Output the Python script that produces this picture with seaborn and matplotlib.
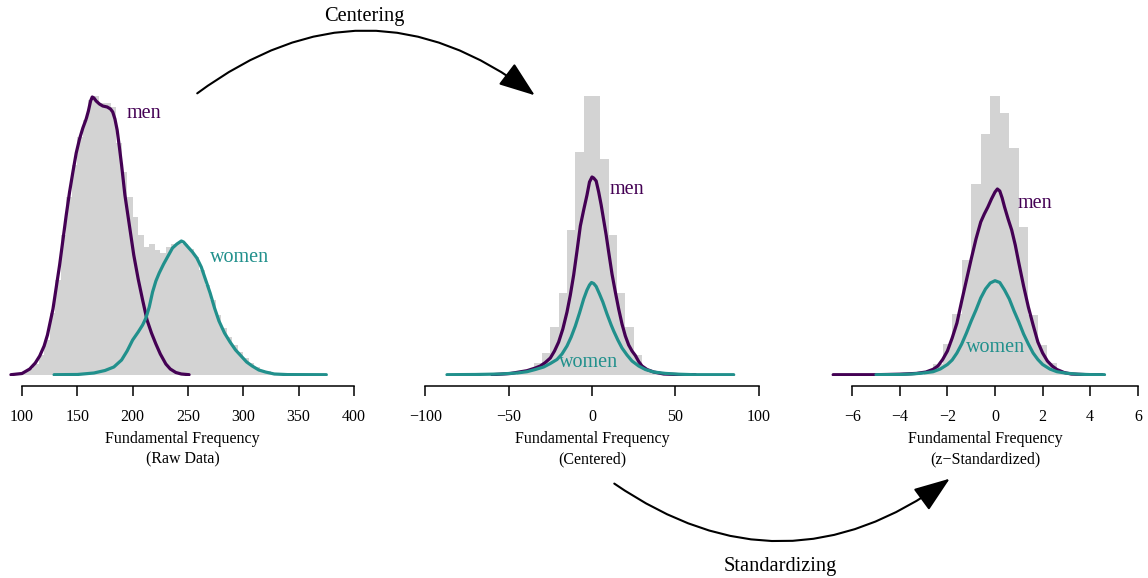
import numpy as np
import pandas as pd
import matplotlib.pyplot as plt
from matplotlib.patches import FancyArrowPatch
import seaborn as sns

sns.set_theme(style="white")
plt.rcParams['font.family'] = ['Liberation Serif', 'DejaVu Serif']
plt.rcParams.update({'text.color': 'black', 'axes.labelcolor': 'black',
                     'xtick.color': 'black', 'axes.edgecolor': 'black'})

MEN = '#440154'
WOMEN = '#21908C'
BAR = '#D3D3D3'

# ---------- raw data (Hz) ----------
raw_edges_start, raw_bin = 85, 5
raw_hist = [0.3, 0.6, 1.2, 2.5, 5.5, 11, 20, 35, 62, 95, 140, 178, 210, 238, 255, 275,
            279, 272, 272, 268, 232, 203, 178, 158, 140, 128, 131, 125, 122, 128, 131, 133,
            131, 126, 118, 105, 90, 75, 60, 47, 38, 30, 23, 17, 12, 8, 5, 3.5, 2, 1.5, 1, 0.5]
raw_men_x = [90, 100, 107, 112, 116, 120, 123, 128, 131, 134, 137, 140, 143, 146, 149, 152,
             155, 158, 160, 162, 163.5, 165, 167, 170, 173, 177, 180, 182, 184, 186, 188, 190,
             193, 197, 201, 205, 209, 213, 217, 221, 225, 230, 234, 239, 244, 251]
raw_men_y = [0.3, 1.5, 6, 12, 19, 29, 40, 66, 88, 110, 135, 160, 183, 203, 222, 236,
             247, 256, 264, 274, 278, 277, 274, 271, 269, 268, 266, 263, 256, 245, 228, 210,
             180, 150, 120, 96, 75, 55, 42, 31, 21, 11, 6, 2.5, 1, 0.3]
raw_women_x = [129, 150, 165, 175, 183, 190, 195, 200, 205, 209, 212, 215, 218, 221, 224, 228,
               232, 236, 240, 244, 246, 250, 254, 258, 262, 266, 270, 274, 278, 283, 288, 293,
               298, 303, 308, 314, 320, 328, 340, 375]
raw_women_y = [0.3, 0.5, 2, 4.5, 8, 15, 24, 35, 43, 50, 57, 68, 83, 94, 102, 111,
               119, 127, 131, 134, 133, 128, 123, 117, 108, 95, 82, 67, 54, 42, 33, 25,
               19, 13, 9, 5, 3, 1, 0.4, 0.3]

# ---------- centered data ----------
cen_edges_start, cen_bin = -45, 5
cen_hist = [2, 4.7, 12.3, 21.7, 47.7, 82, 145, 223, 279, 279, 216, 140, 82, 47.7, 20, 6, 2.5, 1.2]
cen_men_x = [-60, -49, -39, -34, -31, -28, -25, -22.5, -20, -17.5, -15, -13, -11, -9, -7, -5,
             -3, -1.5, 0, 1, 2.5, 4, 5.5, 7, 8.5, 10, 12, 14, 16, 18, 20, 22,
             24, 26, 28, 30, 33, 37, 43, 52, 62]
cen_men_y = [0.3, 1.5, 4.3, 7, 9, 12.5, 17, 24, 33, 46, 63, 80, 100, 124, 149, 165,
             180, 193, 198, 197, 194, 183, 170, 155, 140, 123, 101, 83, 66, 51, 39, 30,
             24, 19.5, 13.5, 9, 5.5, 3, 1, 0.4, 0.3]
cen_women_x = [-87, -70, -55, -45, -39, -34, -29, -25, -21, -18, -15, -12.5, -10, -7.5, -5, -3,
               -1.5, -0.3, 1, 2.5, 4.5, 6.5, 9, 11.5, 13, 15.5, 18, 21, 24, 28, 32, 37,
               44, 52, 61, 85]
cen_women_y = [0.3, 0.5, 1, 2, 3.3, 5.5, 8, 11.5, 15.5, 21, 29, 38, 49, 62, 76, 85,
               90, 92.5, 91.5, 88.5, 81, 73, 61, 50, 44, 35, 27, 20, 14, 9, 5.5, 3,
               1.6, 0.8, 0.3, 0.3]

# ---------- z-standardized data ----------
z_edges_start, z_bin = -3.0, 0.4
z_hist = [4, 11, 31, 61, 115, 191, 241, 279, 262, 227, 148, 60, 30, 12, 4]
z_men_x = [-6.8, -5, -4, -3.3, -2.9, -2.6, -2.4, -2.2, -2.0, -1.8, -1.6, -1.4, -1.2, -1.0, -0.8, -0.6,
           -0.45, -0.3, -0.15, 0.0, 0.1, 0.2, 0.3, 0.4, 0.55, 0.7, 0.85, 1.0, 1.2, 1.4, 1.6, 1.8,
           2.0, 2.2, 2.4, 2.6, 2.9, 3.2, 3.8, 4.5]
z_men_y = [0.3, 0.3, 0.8, 1.6, 3, 5.7, 9, 15.5, 24, 37, 52, 74, 95, 116, 136, 153,
           161, 168, 176, 183, 186, 184, 177, 168, 156, 145, 130, 112, 89, 68, 50, 33,
           22, 14, 9, 5.5, 2.5, 1, 0.4, 0.3]
z_women_x = [-5.0, -4, -3.5, -3, -2.6, -2.3, -2.0, -1.8, -1.6, -1.4, -1.2, -1.0, -0.8, -0.6, -0.4, -0.2,
             0.0, 0.2, 0.4, 0.6, 0.8, 1.0, 1.2, 1.4, 1.6, 1.8, 2.0, 2.3, 2.6, 3.0, 3.5, 4.0, 4.6]
z_women_y = [0.3, 0.5, 1, 2, 3.3, 6, 10.5, 15, 22, 31, 42, 54, 65, 77, 86, 92,
             94.3, 92.5, 85, 76, 64, 53, 41, 31, 22, 15.5, 10.5, 6, 3.3, 1.8, 0.8, 0.4, 0.3]

panels = [
    dict(start=raw_edges_start, width=raw_bin, hist=raw_hist, mx=raw_men_x, my=raw_men_y,
         wx=raw_women_x, wy=raw_women_y, xlim=(88, 402), ticks=[100, 150, 200, 250, 300, 350, 400],
         label='Fundamental Frequency\n(Raw Data)', men_pos=(194.4, 262), women_pos=(269.5, 118)),
    dict(start=cen_edges_start, width=cen_bin, hist=cen_hist, mx=cen_men_x, my=cen_men_y,
         wx=cen_women_x, wy=cen_women_y, xlim=(-100, 100), ticks=[-100, -50, 0, 50, 100],
         label='Fundamental Frequency\n(Centered)', men_pos=(10.8, 185), women_pos=(-19.6, 12.3)),
    dict(start=z_edges_start, width=z_bin, hist=z_hist, mx=z_men_x, my=z_men_y,
         wx=z_women_x, wy=z_women_y, xlim=(-7, 6.2), ticks=[-6, -4, -2, 0, 2, 4, 6],
         label='Fundamental Frequency\n(z\u2212Standardized)', men_pos=(0.94, 171), women_pos=(-1.23, 28)),
]

W, H = 1148, 578
fig = plt.figure(figsize=(W / 100, H / 100), dpi=100)

# axes boxes in pixels: (left, right)
boxes = [(8.7, 356.2), (425.3, 758.7), (828.4, 1142.6)]
ybot, ytop = 376, 85

for (l, r), p in zip(boxes, panels):
    ax = fig.add_axes([l / W, 1 - ybot / H, (r - l) / W, (ybot - ytop) / H])
    n = len(p['hist'])
    lefts = p['start'] + p['width'] * np.arange(n)
    hist_df = pd.DataFrame({'value': lefts + p['width'] / 2, 'count': p['hist']})
    sns.histplot(data=hist_df, x='value', weights='count', binwidth=p['width'],
                 binrange=(p['start'], p['start'] + n * p['width']), element='step', fill=True,
                 color=BAR, alpha=1, linewidth=0, ax=ax)
    sns.lineplot(x=p['mx'], y=p['my'], color=MEN, linewidth=2.3, ax=ax)
    sns.lineplot(x=p['wx'], y=p['wy'], color=WOMEN, linewidth=2.3, ax=ax)
    ax.text(*p['men_pos'], 'men', color=MEN, fontsize=14.5, va='center', ha='left')
    ax.text(*p['women_pos'], 'women', color=WOMEN, fontsize=14.5, va='center', ha='left')

    ax.set_xlim(*p['xlim'])
    ax.set_ylim(-1, 290)
    for s in ['left', 'top', 'right']:
        ax.spines[s].set_visible(False)
    ax.spines['bottom'].set_position(('outward', 7.2))
    ax.spines['bottom'].set_bounds(p['ticks'][0], p['ticks'][-1])
    ax.spines['bottom'].set_linewidth(1.1)
    ax.set_xticks(p['ticks'])
    ax.set_yticks([])
    ax.set_ylabel('')
    ax.tick_params(axis='x', direction='out', length=7.5, width=1.1,
                   labelsize=11.5, pad=9, bottom=True)
    ax.set_xlabel(p['label'], fontsize=11.5, linespacing=1.38, labelpad=4.5)
    ax.patch.set_alpha(0)

# transformation arrows
def px(x, y):
    return (x / W, 1 - y / H)

arr1 = FancyArrowPatch(px(195, 95), px(537, 97), connectionstyle='arc3,rad=-0.38',
                       arrowstyle='-|>,head_length=0.9,head_width=0.33', mutation_scale=25,
                       color='black', linewidth=1.5, transform=fig.transFigure)
arr2 = FancyArrowPatch(px(612, 482), px(952, 477), connectionstyle='arc3,rad=0.36',
                       arrowstyle='-|>,head_length=0.9,head_width=0.33', mutation_scale=25,
                       color='black', linewidth=1.5, transform=fig.transFigure)
fig.patches.extend([arr1, arr2])
fig.text(*px(364, 17), 'Centering', fontsize=14.7, ha='center', va='center')
fig.text(*px(780, 566), 'Standardizing', fontsize=14.7, ha='center', va='center')

fig.savefig('out.png', dpi=100)
